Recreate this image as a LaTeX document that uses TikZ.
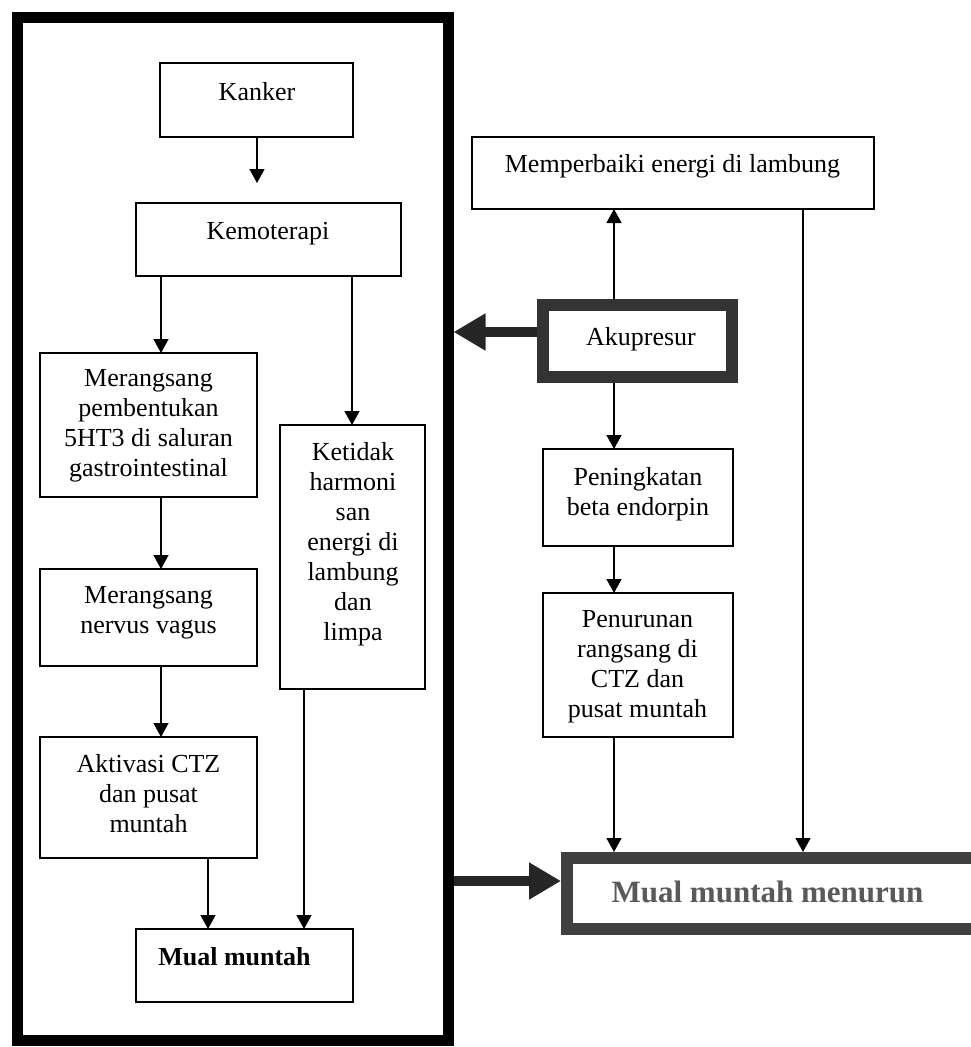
\documentclass[tikz,border=0pt]{standalone}
\usepackage{fontspec}
\setmainfont{Liberation Serif}
\usetikzlibrary{arrows.meta,calc}
\definecolor{dgray}{HTML}{595959}
\begin{document}
\begin{tikzpicture}[x=1pt,y=-1pt,
  box/.style={draw=black, line width=1.1pt, rectangle, inner sep=0pt, outer sep=0pt},
  txt/.style={font=\fontsize{26}{30}\selectfont, align=center, inner sep=0pt, anchor=north},
  arr/.style={draw=black, line width=1.3pt, -{Triangle[width=15pt,length=14pt]}},
  bigarr/.style={draw=black, line width=10pt, -{Triangle[width=35pt,length=32pt]}},
]
\useasboundingbox (0,0) rectangle (971,1047);
\clip (0,0) rectangle (971,1047);

% column / row helper coordinates
\coordinate (c161) at (161,0);
\coordinate (c208) at (208,0);
\coordinate (c257) at (257,0);
\coordinate (c304) at (304,0);
\coordinate (c352) at (352,0);
\coordinate (c614) at (614,0);
\coordinate (c803) at (803,0);
\coordinate (r332) at (0,332);
\coordinate (r881) at (0,881);

% big frame
\node[box, line width=11pt, outer sep=5.5pt, minimum width=431pt, minimum height=1023pt] (frame) at (232.5,528.5) {};

% left boxes
\node[box, minimum width=193pt, minimum height=74pt] (kanker) at (256.5,100) {};
\node[box, minimum width=265pt, minimum height=73pt] (kemo) at (268.5,239.5) {};
\node[box, minimum width=217pt, minimum height=144pt] (mp) at (148.5,425) {};
\node[box, minimum width=145pt, minimum height=264pt] (ket) at (352.5,557) {};
\node[box, minimum width=217pt, minimum height=97pt] (mn) at (148.5,617.5) {};
\node[box, minimum width=217pt, minimum height=121pt] (akt) at (148.5,797.5) {};
\node[box, minimum width=217pt, minimum height=73pt] (mual) at (244.5,965.5) {};

% right boxes
\node[box, minimum width=402pt, minimum height=72pt] (memp) at (673,173) {};
\node[box, draw=black!80, line width=12pt, outer sep=6pt, minimum width=189pt, minimum height=72pt] (aku) at (637.5,341) {};
\node[box, minimum width=190pt, minimum height=97pt] (pen) at (638,497.5) {};
\node[box, minimum width=190pt, minimum height=144pt] (penu) at (638,665) {};
\node[box, draw=black!75, line width=12pt, outer sep=6pt, minimum width=423pt, minimum height=71pt] (mmm) at (778.5,893.5) {};

% texts
\node[txt] (tkanker) at (257,82) {Kanker};
\node[txt] (tkemo) at (268,222) {Kemoterapi};
\node[txt] (tmp) at (148.5,369) {Merangsang\\pembentukan\\5HT3 di saluran\\gastrointestinal};
\node[txt] (tket) at (353,442) {Ketidak\\harmoni\\san\\energi di\\lambung\\dan\\limpa};
\node[txt] (tmn) at (148.5,586) {Merangsang\\nervus vagus};
\node[txt] (takt) at (148.5,754) {Aktivasi CTZ\\dan pusat\\muntah};
\node[txt, font=\fontsize{26}{30}\selectfont\bfseries] (tmual) at (234.5,947) {Mual muntah};
\node[txt] (tmemp) at (672.5,154) {Memperbaiki energi di lambung};
\node[txt] (taku) at (641,327) {Akupresur};
\node[txt] (tpen) at (638,467) {Peningkatan\\beta endorpin};
\node[txt] (tpenu) at (637.5,610) {Penurunan\\rangsang di\\CTZ dan\\pusat muntah};
\node[txt, font=\fontsize{31}{36}\selectfont\bfseries, text=dgray] (tmmm) at (767.5,881) {Mual muntah menurun};

% thin arrows, left
\draw[arr, shorten >=20pt] (kanker.south -| c257) -- (kemo.north -| c257);
\draw[arr] (kemo.south -| c161) -- (mp.north -| c161);
\draw[arr] (kemo.south -| c352) -- (ket.north -| c352);
\draw[arr] (mp.south -| c161) -- (mn.north -| c161);
\draw[arr] (mn.south -| c161) -- (akt.north -| c161);
\draw[arr] (akt.south -| c208) -- (mual.north -| c208);
\draw[arr] (ket.south -| c304) -- (mual.north -| c304);

% thin arrows, right
\draw[arr] (aku.north -| c614) -- (memp.south -| c614);
\draw[arr] (aku.south -| c614) -- (pen.north -| c614);
\draw[arr] (pen.south -| c614) -- (penu.north -| c614);
\draw[arr] (penu.south -| c614) -- (mmm.north -| c614);
\draw[arr] (memp.south -| c803) -- (mmm.north -| c803);

% thick arrows
\draw[bigarr, draw=black!85] (aku.west |- r332) -- (frame.east |- r332);
\draw[bigarr, draw=black!85] (frame.east |- r881) -- (mmm.west |- r881);
\end{tikzpicture}
\end{document}
